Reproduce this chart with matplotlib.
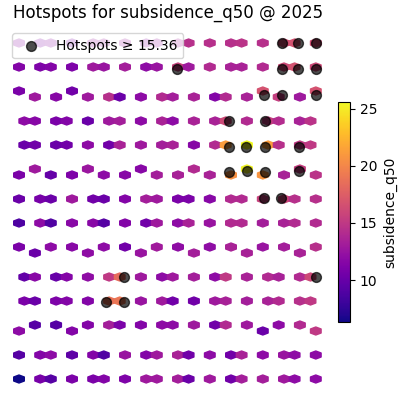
import numpy as np
import matplotlib
matplotlib.use("Agg")
import matplotlib.pyplot as plt

# hexbin cells, in grid units (one hex = 1 in x)
# each row: grid y, the grid x of its cells, and the cell value
row_y = [28, 26, 24, 23.5, 21.5, 19.5, 17.5, 17, 15, 13, 11, 10.5,
         8.5, 6.5, 4.5, 4, 2, 0]

xa = [0, 2, 3, 5, 7, 8, 10, 12, 13, 15, 16, 18, 20, 21, 23, 25, 26, 28]
xb = [0.5, 1.5, 3.5, 4.5, 6.5, 8.5, 9.5, 11.5, 13.5, 14.5, 16.5, 18.5,
      19.5, 21.5, 23.5, 24.5, 26.5, 27.5]

row_x = [
    xa,
    xa,
    [0, 5, 23, 28],
    [1.5, 3.5, 6.5, 8.5, 9.5, 11.5, 13.5, 14.5, 16.5, 18.5, 19.5, 21.5, 24.5, 26.5],
    xb,
    xb,
    [1.5, 6.5, 11.5, 16.5, 21.5, 26.5],
    [0, 3, 5, 8, 10, 13, 15, 18, 20, 23, 25, 28],
    xa,
    xa,
    [0, 3, 5, 8, 10, 13, 15, 18, 20, 23, 25, 28],
    [1.5, 6.5, 11.5, 16.5, 21.5, 26.5],
    xb,
    xb,
    [1.5, 3.5, 6.5, 8.5, 9.5, 11.5, 13.5, 14.5, 16.5, 18.5, 19.5, 21.5, 24.5, 26.5],
    [0, 5, 23, 28],
    xa,
    xa,
]

row_v = [
    [11.9, 11.4, 11.9, 11.0, 12.5, 12.9, 12.9, 11.9, 12.5, 13.2, 14.4, 14.4, 14.4, 14.6, 14.4, 16.4, 16.7, 16.4],
    [11.4, 11.2, 11.4, 11.2, 12.9, 12.5, 13.2, 11.9, 12.5, 15.6, 12.9, 14.0, 13.5, 13.5, 14.0, 16.1, 16.7, 16.1],
    [11.0, 10.5, 16.7, 16.7],
    [12.9, 11.6, 12.9, 14.4, 10.2, 11.9, 14.0, 13.2, 13.5, 11.4, 14.0, 13.5, 15.4, 12.9],
    [11.9, 11.6, 11.0, 11.4, 10.2, 12.9, 13.2, 11.9, 13.5, 11.9, 13.5, 13.5, 16.1, 14.0, 15.4, 14.2, 13.5, 14.6],
    [10.2, 10.5, 10.2, 10.5, 11.9, 10.5, 13.5, 12.9, 13.2, 13.5, 11.6, 14.0, 21.2, 25.6, 21.2, 14.4, 15.0, 15.0],
    [12.9, 12.7, 11.6, 14.0, 25.3, 15.4],
    [11.0, 9.9, 11.2, 11.9, 11.6, 13.2, 13.4, 13.5, 20.6, 20.8, 13.5, 14.6],
    [10.2, 10.8, 10.2, 12.9, 10.5, 10.2, 11.4, 13.2, 12.9, 11.0, 11.0, 11.6, 14.0, 14.0, 15.6, 16.0, 14.4, 14.4],
    [8.8, 11.9, 8.9, 11.7, 11.7, 9.2, 11.4, 10.5, 12.9, 11.9, 13.5, 12.5, 14.0, 14.0, 13.2, 13.5, 14.0, 14.0],
    [11.0, 11.9, 11.7, 11.9, 10.5, 13.0, 12.0, 12.0, 13.5, 12.5, 13.2, 14.4],
    [10.2, 12.0, 12.5, 13.2, 13.4, 13.5],
    [9.8, 11.7, 10.0, 11.5, 12.0, 15.0, 18.4, 12.9, 11.9, 12.9, 13.2, 11.9, 15.0, 13.5, 14.0, 13.4, 14.0, 16.1],
    [11.0, 10.2, 11.1, 11.4, 11.4, 18.8, 19.0, 12.5, 12.9, 10.5, 10.5, 12.9, 13.4, 13.2, 13.5, 14.0, 14.4, 15.0],
    [9.2, 9.2, 11.4, 13.2, 11.0, 11.4, 11.9, 11.9, 12.9, 10.5, 14.0, 12.9, 11.9, 14.0],
    [11.9, 11.4, 10.2, 15.0],
    [9.2, 11.4, 11.9, 9.6, 11.4, 9.0, 12.5, 11.4, 12.9, 13.5, 10.5, 11.9, 10.5, 13.5, 11.9, 12.5, 11.9, 11.9],
    [6.3, 10.8, 9.2, 11.0, 11.0, 11.4, 11.2, 12.9, 12.9, 13.2, 10.2, 12.9, 10.5, 13.2, 13.2, 12.9, 11.9, 11.9],
]

# hotspot points (value >= threshold), grid units
hot_x = [24.8, 26.35, 28.0, 14.9, 24.8, 26.35, 28.0, 23.15, 24.8, 28.0,
         19.85, 23.2, 19.85, 21.45, 23.2, 26.45, 19.85, 21.5, 23.2, 26.45,
         23.15, 24.7, 9.9, 28.0, 8.25, 9.9]
hot_y = [28.0, 28.0, 28.0, 25.8, 25.8, 25.8, 25.8, 23.7, 23.7, 23.7,
         21.5, 21.5, 19.3, 19.35, 19.3, 19.3, 17.25, 17.3, 17.25, 17.3,
         15.05, 15.05, 8.5, 8.5, 6.4, 6.4]
threshold = 15.36

gx, gy, val = [], [], []
for y, xs, vs in zip(row_y, row_x, row_v):
    gx += list(xs)
    gy += [y] * len(xs)
    val += list(vs)
gx = np.array(gx, dtype=float)
gy = np.array(gy, dtype=float)
val = np.array(val, dtype=float)

fig = plt.figure(figsize=(4, 4), dpi=100)
ax = fig.add_axes([0.0125, 0.0125, 0.815, 0.9215])

hb = ax.hexbin(gx, gy, C=val, gridsize=(28, 28), extent=(0, 28, 0, 28),
               cmap='plasma', reduce_C_function=np.mean)
ax.scatter(hot_x, hot_y, s=50, c='k', alpha=0.7,
           label=f'Hotspots \u2265 {threshold:.2f}')

ax.set_xlim(-1.321, 29.434)
ax.set_ylim(-1.333, 29.383)
ax.axis('off')
ax.set_title('Hotspots for subsidence_q50 @ 2025')
ax.legend(loc='upper left')

cax = fig.add_axes([0.8458, 0.194, 0.029, 0.5515])
cb = fig.colorbar(hb, cax=cax)
cb.set_label('subsidence_q50')

plt.savefig('out.png', dpi=100)
